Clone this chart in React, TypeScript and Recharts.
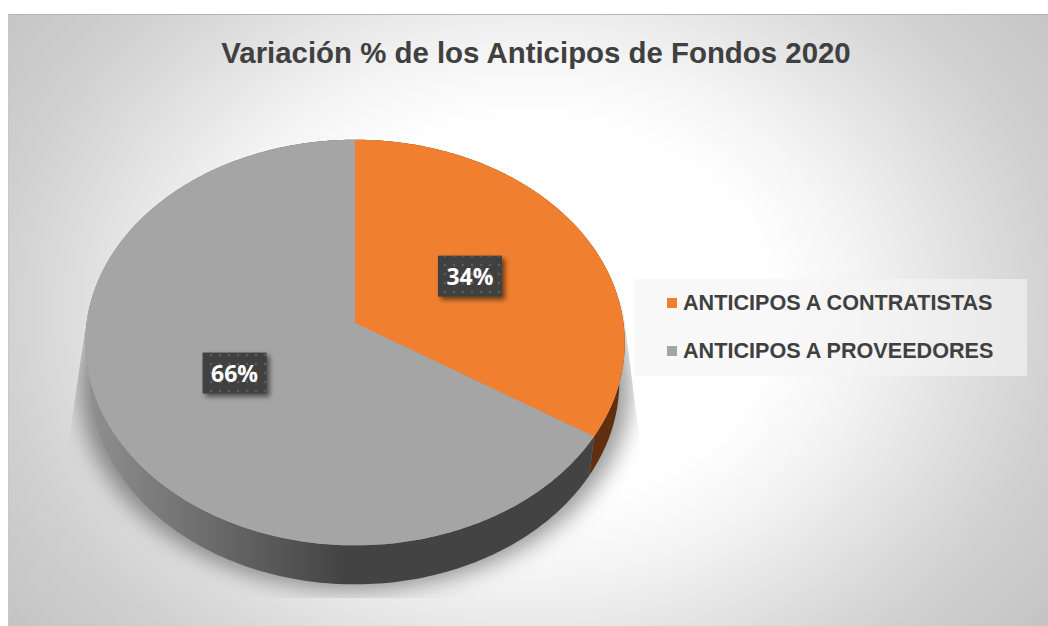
import React from 'react';
import { PieChart, Pie, Cell, Legend } from 'recharts';

const categories = ['ANTICIPOS A CONTRATISTAS', 'ANTICIPOS A PROVEEDORES'];
const seriesValues = [34, 66];
const faceColors = ['#f0802f', '#a5a5a5'];
const wallColors = ['#5f2f10', 'url(#wallGrad)'];
const titleText = 'Variación % de los Anticipos de Fondos 2020';

const tableRows = categories.map((name, i) => ({ name, value: seriesValues[i] }));
const totalRow = [{ name: 'total', value: seriesValues.reduce((a, b) => a + b, 0) }];

const P = 0.0962;
const YR = 0.7485;
const RAD = Math.PI / 180;

function project(cx: number, cy: number, r: number, deg: number, f = 1, xs = 1, dy = 0): [number, number] {
  const u = Math.cos(deg * RAD) * f;
  const v = -Math.sin(deg * RAD) * f;
  const s = 1 / (1 - P * v);
  return [cx + r * u * s * xs, cy + dy + r * YR * v * s];
}

function arcPoints(p: any, xs = 1, dy = 0) {
  const pts: [number, number][] = [];
  const n = Math.max(2, Math.ceil(Math.abs(p.endAngle - p.startAngle)));
  for (let i = 0; i <= n; i++) {
    const a = p.startAngle + ((p.endAngle - p.startAngle) * i) / n;
    pts.push(project(p.cx, p.cy, p.outerRadius, a, 1, xs, dy));
  }
  return pts;
}

const toPath = (pts: [number, number][]) =>
  pts.map((q, i) => `${i ? 'L' : 'M'}${q[0].toFixed(2)} ${q[1].toFixed(2)}`).join(' ');

const FaceShape = (p: any) => (
  <path d={`M${p.cx} ${p.cy} ${toPath(arcPoints(p)).replace('M', 'L')} Z`} fill={p.fill} stroke="none" />
);

const WallShape = (p: any) => {
  const top = arcPoints(p);
  const bottom = arcPoints(p, 0.98, 39).reverse();
  return <path d={`${toPath(top)} ${toPath(bottom).replace('M', 'L')} Z`} fill={p.fill} stroke="none" />;
};

const ShadowShape = (p: any) => (
  <g clipPath="url(#shadowClip)">
    <path d={`${toPath(arcPoints(p, 1.02, 44))} Z`} fill="#000" fillOpacity={0.4} filter="url(#softBlur)" />
  </g>
);

const PercentLabel = (p: any) => {
  const [x, y] = project(p.cx, p.cy, p.outerRadius, p.midAngle, 0.5);
  return (
    <g>
      <rect x={x - 32} y={y - 20} width={64} height={41} fill="#404040" filter="url(#labelShadow)" />
      <rect x={x - 32} y={y - 20} width={64} height={41} fill="url(#dots)" />
      <text x={x} y={y + 9} textAnchor="middle" fontFamily="'Open Sans'" fontWeight={700} fontSize={23} fill="#fff">
        {`${Math.round(p.percent * 100)}%`}
      </text>
    </g>
  );
};

const LegendBox = ({ payload }: any) => (
  <div
    style={{
      width: 393,
      height: 97,
      background: 'rgba(245,245,245,0.6)',
      fontFamily: "'Liberation Sans'",
      fontWeight: 700,
      fontSize: 21.6,
      color: '#404040',
      position: 'relative',
    }}
  >
    {(payload || [])
      .filter((e: any) => faceColors.includes(e.color))
      .map((e: any, i: number) => (
        <div key={e.value} style={{ position: 'absolute', left: 33, top: 12 + i * 48, height: 24, display: 'flex', alignItems: 'center', whiteSpace: 'nowrap' }}>
          <span style={{ width: 10, height: 10, background: e.color, marginRight: 6, display: 'inline-block' }} />
          {e.value}
        </div>
      ))}
  </div>
);

export default function App() {
  return (
    <div style={{ position: 'absolute', left: 0, top: 0, width: 1048, height: 626, overflow: 'hidden', background: '#fff' }}>
      <div
        style={{
          position: 'absolute',
          left: 8,
          top: 14,
          width: 1040,
          height: 612,
          boxSizing: 'border-box',
          borderTop: '1px solid #b5b5b5',
          borderLeft: '1px solid #c8c8c8',
          background:
            'radial-gradient(ellipse 660px 528px at 520px 296px, #fff 36%, #f4f4f4 50%, #e2e2e2 65%, #d0d0d0 81%, #c3c3c3 100%)',
        }}
      />
      <div
        style={{
          position: 'absolute',
          left: 0,
          top: 34,
          width: 1072,
          textAlign: 'center',
          fontFamily: "'Liberation Sans'",
          fontWeight: 700,
          fontSize: 29.4,
          lineHeight: '38px',
          color: '#404040',
        }}
      >
        {titleText}
      </div>
      <div style={{ position: 'absolute', left: 0, top: 0 }}>
        <PieChart width={1048} height={626} margin={{ top: 0, right: 0, bottom: 0, left: 0 }}>
          <defs>
            <linearGradient id="wallGrad" gradientUnits="userSpaceOnUse" x1="90" y1="0" x2="345" y2="0">
              <stop offset="0" stopColor="#8f8f8f" />
              <stop offset="1" stopColor="#434343" />
            </linearGradient>
            <filter id="softBlur" x="-10%" y="-10%" width="120%" height="120%">
              <feGaussianBlur stdDeviation="11" />
            </filter>
            <filter id="labelShadow" x="-30%" y="-30%" width="160%" height="160%">
              <feDropShadow dx="3" dy="3" stdDeviation="2.5" floodColor="#000" floodOpacity="0.55" />
            </filter>
            <pattern id="dots" width="9" height="9" patternUnits="userSpaceOnUse">
              <circle cx="4" cy="4" r="1.3" fill="#5c5c5c" />
            </pattern>
            <clipPath id="shadowClip">
              <polygon points="85,330 66,460 66,598 645,598 642,460 622,300" />
            </clipPath>
          </defs>
          <Pie
            data={totalRow}
            dataKey="value"
            nameKey="name"
            cx={355}
            cy={323}
            outerRadius={268.5}
            startAngle={90}
            endAngle={-270}
            stroke="none"
            legendType="none"
            shape={ShadowShape}
            isAnimationActive={false}
          />
          <Pie
            data={tableRows}
            dataKey="value"
            nameKey="name"
            cx={355}
            cy={323}
            outerRadius={268.5}
            startAngle={90}
            endAngle={-270}
            stroke="none"
            legendType="none"
            shape={WallShape}
            isAnimationActive={false}
          >
            {tableRows.map((r, i) => (
              <Cell key={r.name} fill={wallColors[i]} />
            ))}
          </Pie>
          <Pie
            data={tableRows}
            dataKey="value"
            nameKey="name"
            cx={355}
            cy={323}
            outerRadius={268.5}
            startAngle={90}
            endAngle={-270}
            stroke="none"
            shape={FaceShape}
            label={PercentLabel}
            labelLine={false}
            isAnimationActive={false}
          >
            {tableRows.map((r, i) => (
              <Cell key={r.name} fill={faceColors[i]} />
            ))}
          </Pie>
          <Legend
            content={LegendBox}
            layout="vertical"
            verticalAlign="top"
            align="right"
            wrapperStyle={{ position: 'absolute', left: 634, right: 'auto', top: 279, width: 393, height: 97 }}
          />
        </PieChart>
      </div>
    </div>
  );
}
